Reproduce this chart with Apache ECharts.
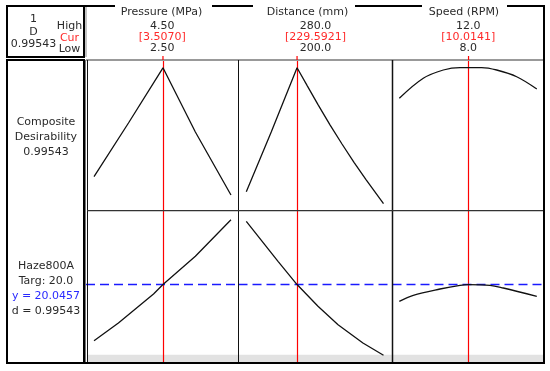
<!DOCTYPE html>
<html><head><meta charset="utf-8">
<script src="https://cdn.jsdelivr.net/npm/echarts@6/dist/echarts.min.js"></script>
<style>html,body{margin:0;padding:0;background:#fff}#c{width:550px;height:371px}</style>
</head><body><div id="c"></div>
<script>
// ---- data ----
const factors = ['Pressure (MPa)', 'Distance (mm)', 'Speed (RPM)'];
const highLabels = ['4.50', '280.0', '12.0'];
const curLabels = ['[3.5070]', '[229.5921]', '[10.0141]'];
const lowLabels = ['2.50', '200.0', '8.0'];
const lows = [2.5, 200, 8];
const highs = [4.5, 280, 12];
const currents = [3.507, 229.5921, 10.0141];
const compositeD = 0.99543;
const target = 20.0;
const predictedY = 20.0457;
const responseName = 'Haze800A';
// composite desirability vs each factor
const pressureD = [[2.5,0.233],[3.003,0.609],[3.507,0.99543],[3.98,0.546],[4.5,0.105]];
const distanceD = [[200,0.128],[214.6,0.548],[229.5921,0.99543],[235.57,0.869],[241.81,0.738],[248.8,0.596],[255.8,0.462],[262.8,0.334],[269.8,0.213],[280,0.045]];
const speedD = [[8.0,0.782],[8.698,0.922],[9.28,0.980],[9.766,0.997],[10.0141,0.996],[10.397,0.997],[10.833,0.980],[11.415,0.933],[12.0,0.847]];
// predicted Haze800A vs each factor
const pressureY = [[2.5,14.43],[2.856,16.2],[3.369,19.1],[3.507,20.0457],[3.98,22.87],[4.5,26.53]];
const distanceY = [[200,26.37],[218.5,22.37],[229.5921,20.0457],[241.8,17.87],[253.5,16.03],[268.0,14.2],[280,12.97]];
const speedY = [[8.0,18.37],[8.407,18.97],[9.184,19.6],[9.766,19.97],[10.0141,20.0457],[10.639,19.97],[11.025,19.7],[12.0,18.87]];

const dSeries = [pressureD, distanceD, speedD];
const ySeries = [pressureY, distanceY, speedY];

// ---- layout ----
const colLeft = [86, 238.5, 392.5];
const colWidth = [152.5, 154, 151.5];
const padL = [8, 7.8, 6.8], padR = [7.5, 9, 7.2], curveW = [136.5, 137.2, 137.5];
const rowTop = [60, 211], rowH = [150, 152];
const yMin = [0, 12.2], yMax = [1.05, 27.4];
const FONT = 'DejaVu Sans';
const TXT = '#2a2a2a';

const chart = echarts.init(document.getElementById('c'), null, {renderer: 'canvas'});
const grid = [], xAxis = [], yAxis = [], series = [];
for (let r = 0; r < 2; r++) {
  for (let c = 0; c < 3; c++) {
    const gi = r * 3 + c;
    grid.push({left: colLeft[c], top: rowTop[r], width: colWidth[c], height: rowH[r], show: false});
    const rng = highs[c] - lows[c];
    xAxis.push({type: 'value', gridIndex: gi, show: false,
      min: lows[c] - padL[c] / curveW[c] * rng, max: highs[c] + padR[c] / curveW[c] * rng});
    yAxis.push({type: 'value', gridIndex: gi, show: false, min: yMin[r], max: yMax[r]});
    const ml = [{xAxis: currents[c], lineStyle: {color: '#ff0000', width: 1.2, type: 'solid'}}];
    if (r === 1) ml.push({yAxis: predictedY, lineStyle: {color: '#1a1aff', width: 1.4, type: [9, 5]}});
    series.push({
      type: 'line', xAxisIndex: gi, yAxisIndex: gi,
      data: r === 0 ? dSeries[c] : ySeries[c],
      showSymbol: false, symbol: 'none', smooth: (c === 2) ? 0.35 : false,
      lineStyle: {color: '#111', width: 1.3}, z: 3, animation: false,
      markLine: {silent: true, symbol: 'none', label: {show: false}, animation: false, data: ml, z: 2}
    });
  }
}
chart.setOption({animation: false, grid, xAxis, yAxis, series});

function txt(x, y, s, opt) {
  opt = opt || {};
  return {type: 'text', x: x, y: y, z: 110, silent: true,
    style: {text: s, fontFamily: FONT, fontSize: opt.size || 11, fill: opt.color || TXT,
      textAlign: opt.align || 'center', textVerticalAlign: 'middle'}};
}
function line(x1, y1, x2, y2, color, w) {
  return {type: 'line', z: 100, silent: true, shape: {x1, y1, x2, y2}, style: {stroke: color, lineWidth: w}};
}
function rect(x, y, w, h, stroke, lw, fill) {
  return {type: 'rect', z: 100, silent: true, shape: {x, y, width: w, height: h},
    style: {stroke: stroke, lineWidth: lw, fill: fill || 'none'}};
}

const g = [];
// gray band at bottom of response row
g.push(Object.assign(rect(87, 354.7, 456, 7.3, null, 0, '#e2e2e2'), {z: 0}));
// header box
g.push(rect(7, 6, 77, 51, '#000', 2));
g.push(line(86, 6, 86, 57, '#888', 1));
// header frame lines
g.push(line(84, 6, 115, 6, '#000', 2));
g.push(line(212, 6, 253, 6, '#000', 2));
g.push(line(355, 6, 422, 6, '#000', 2));
g.push(line(507, 6, 544, 6, '#000', 2));
g.push(line(544, 5, 544, 60, '#000', 2));
// left label column
g.push(rect(7, 60, 77, 303, '#000', 2));
// plot frame
g.push(line(86, 60, 544, 60, '#999', 2));
g.push(line(85.5, 60, 85.5, 364, '#777', 1));
g.push(line(87.5, 60, 87.5, 364, '#111', 1));
g.push(line(238.5, 60, 238.5, 363, '#111', 1));
g.push(line(392.5, 60, 392.5, 363, '#111', 1.5));
g.push(line(87, 210.7, 544, 210.7, '#333', 1.2));
g.push(line(544, 59, 544, 364, '#000', 2));
g.push(line(84, 363, 545, 363, '#000', 2));

// header texts
g.push(txt(33.5, 19, '1'));
g.push(txt(33.5, 32, 'D'));
g.push(txt(33.5, 44, compositeD.toFixed(5)));
g.push(txt(69.5, 26, 'High'));
g.push(txt(69.5, 38, 'Cur', {color: '#ff2a2a'}));
g.push(txt(69.5, 49, 'Low'));
const nameX = [161.5, 307.5, 464];
for (let c = 0; c < 3; c++) {
  const cx = colLeft[c] + colWidth[c] / 2;
  g.push(txt(nameX[c], 12.5, factors[c]));
  g.push(txt(cx, 26.5, highLabels[c]));
  g.push(txt(cx, 37.5, curLabels[c], {color: '#ff2a2a'}));
  g.push(txt(cx, 48.5, lowLabels[c]));
  const px = chart.convertToPixel({gridIndex: c}, [currents[c], 0])[0];
  g.push(line(px, 56, px, 60, '#ff0000', 1.2));
}
// row labels
g.push(txt(46, 122, 'Composite'));
g.push(txt(46, 137, 'Desirability'));
g.push(txt(46, 152, compositeD.toFixed(5)));
g.push(txt(46, 266, responseName));
g.push(txt(46, 281, 'Targ: ' + target.toFixed(1)));
g.push(txt(46, 296, 'y = ' + predictedY.toFixed(4), {color: '#2a2aff'}));
g.push(txt(46, 311, 'd = ' + compositeD.toFixed(5)));

chart.setOption({graphic: g});
</script></body></html>
